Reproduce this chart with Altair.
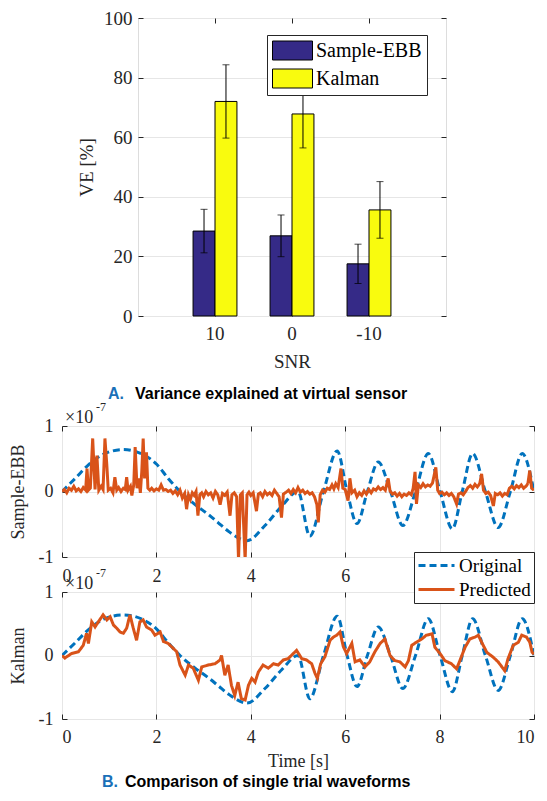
import altair as alt
import pandas as pd

# ---------------- data ----------------
snr = ["10", "0", "-10"]
methods = ["Sample-EBB", "Kalman"]
ve_sample = [28.5, 26.9, 17.5]
err_sample = [7.3, 7.0, 6.6]
ve_kalman = [72.0, 67.8, 35.6]
err_kalman = [12.3, 11.4, 9.5]

orig_t = [0.00, 0.28, 0.55, 0.91, 1.30, 1.70, 2.00, 2.25, 2.50, 2.82, 3.10, 3.30, 3.55, 3.92,
          4.30, 4.66, 5.00, 5.25, 5.54, 5.83, 6.04, 6.25, 6.47, 6.70, 6.96, 7.22, 7.49, 7.76,
          8.01, 8.27, 8.48, 8.70, 8.97, 9.24, 9.50, 9.75, 10.00]
orig_v = [0.00, 0.20, 0.40, 0.58, 0.64, 0.57, 0.42, 0.20, 0.00, -0.20, -0.35, -0.47, -0.62, -0.75,
          -0.52, -0.22, 0.00, -0.68, 0.00, 0.62, 0.00, -0.49, 0.00, 0.45, 0.00, -0.52, 0.00, 0.58,
          0.00, -0.57, 0.00, 0.58, 0.00, -0.55, 0.00, 0.58, 0.00]

ebb_t = [0.00, 0.05, 0.10, 0.15, 0.20, 0.25, 0.30, 0.35, 0.40, 0.45, 0.50, 0.53, 0.56, 0.60, 0.65,
         0.70, 0.74, 0.78, 0.83, 0.87, 0.91, 0.95, 0.98, 1.03, 1.08, 1.12, 1.16, 1.20, 1.25, 1.30,
         1.34, 1.37, 1.40, 1.45, 1.48, 1.52, 1.55, 1.59, 1.63, 1.66, 1.69, 1.72, 1.75, 1.79, 1.82,
         1.86, 1.90, 1.95, 2.00, 2.05, 2.10, 2.15, 2.20, 2.25, 2.30, 2.35, 2.40, 2.45, 2.50, 2.55,
         2.60, 2.64, 2.68, 2.72, 2.76, 2.80, 2.84, 2.88, 2.92, 2.96, 3.00, 3.05, 3.10, 3.15, 3.20,
         3.25, 3.30, 3.35, 3.40, 3.45, 3.50, 3.56, 3.60, 3.65, 3.70, 3.74, 3.78, 3.82, 3.88, 3.92,
         3.96, 4.00, 4.05, 4.12, 4.16, 4.20, 4.25, 4.30, 4.35, 4.40, 4.45, 4.50, 4.55, 4.60, 4.65,
         4.69, 4.75, 4.80, 4.85, 4.90, 4.95, 5.00, 5.05, 5.10, 5.15, 5.20, 5.25, 5.30, 5.35, 5.40,
         5.43, 5.47, 5.52, 5.57, 5.62, 5.67, 5.72, 5.76, 5.80, 5.85, 5.91, 5.95, 6.00, 6.06, 6.10,
         6.14, 6.20, 6.25, 6.30, 6.35, 6.40, 6.45, 6.50, 6.55, 6.60, 6.65, 6.70, 6.75, 6.80, 6.85,
         6.91, 6.95, 7.00, 7.05, 7.10, 7.15, 7.20, 7.25, 7.30, 7.35, 7.40, 7.44, 7.48, 7.51, 7.55,
         7.60, 7.65, 7.70, 7.75, 7.80, 7.85, 7.92, 7.96, 8.00, 8.05, 8.10, 8.15, 8.20, 8.25, 8.30,
         8.36, 8.40, 8.45, 8.50, 8.55, 8.60, 8.65, 8.70, 8.75, 8.80, 8.85, 8.89, 8.93, 8.98, 9.03,
         9.08, 9.14, 9.18, 9.23, 9.28, 9.33, 9.38, 9.43, 9.48, 9.53, 9.58, 9.63, 9.68, 9.73, 9.78,
         9.83, 9.87, 9.91, 9.95, 10.00]
ebb_v = [0.00, 0.03, -0.02, 0.05, 0.02, 0.08, 0.01, 0.04, 0.00, 0.06, 0.02, 0.35, 0.02, 0.05, 0.81,
         0.03, 0.55, 0.02, 0.08, 0.03, 0.81, 0.40, 0.02, 0.05, -0.02, 0.22, 0.02, 0.06, 0.00, 0.05,
         0.03, 0.22, 0.02, 0.08, -0.06, 0.10, 0.68, 0.05, 0.20, -0.02, 0.30, 0.81, 0.20, 0.60, 0.05,
         0.02, 0.05, 0.01, 0.04, 0.02, 0.10, 0.02, 0.03, 0.00, 0.02, -0.03, 0.01, -0.05, 0.02, -0.10,
         -0.03, -0.27, -0.05, -0.12, -0.02, -0.06, 0.00, -0.37, -0.05, -0.02, -0.08, 0.00, -0.05, -0.02, -0.10,
         0.00, -0.05, -0.20, -0.03, -0.06, -0.01, -0.37, -0.05, -0.02, -0.08, -1.05, -0.05, -0.02, -1.05, -0.05,
         -0.01, -0.06, -0.02, -0.30, -0.04, -0.02, -0.08, 0.00, -0.05, -0.02, -0.06, 0.02, -0.03, -0.08, -0.40,
         -0.04, -0.01, 0.02, -0.03, 0.03, -0.02, 0.06, -0.01, 0.02, -0.03, 0.00, -0.04, -0.02, -0.08, -0.20,
         -0.47, -0.05, 0.02, -0.01, 0.05, 0.03, 0.10, 0.04, 0.12, 0.06, 0.35, 0.05, 0.03, -0.14, 0.20,
         -0.02, 0.02, -0.08, -0.02, -0.06, 0.01, -0.04, 0.03, -0.02, 0.04, 0.02, 0.07, 0.03, 0.06, 0.02,
         0.20, 0.01, -0.04, -0.02, -0.07, -0.03, -0.08, -0.04, -0.06, -0.02, -0.05, 0.05, 0.30, -0.19, 0.10,
         0.06, 0.12, 0.07, 0.10, 0.08, 0.13, 0.37, 0.02, -0.03, -0.01, -0.05, -0.02, -0.06, -0.03, -0.08,
         -0.19, -0.04, -0.02, -0.05, 0.00, 0.06, 0.09, 0.05, 0.11, 0.07, 0.12, 0.27, 0.02, -0.03, -0.01,
         -0.06, -0.22, -0.03, -0.05, -0.02, -0.07, -0.03, -0.05, 0.05, 0.08, 0.04, 0.09, 0.06, 0.10, 0.05,
         0.08, 0.12, 0.32, 0.05, 0.02]

kal_t = [0.00, 0.06, 0.20, 0.35, 0.45, 0.52, 0.56, 0.63, 0.70, 0.77, 0.87, 0.95, 1.02, 1.09, 1.16,
         1.23, 1.30, 1.37, 1.44, 1.51, 1.58, 1.65, 1.72, 1.79, 1.90, 1.97, 2.08, 2.15, 2.25, 2.36,
         2.43, 2.50, 2.61, 2.68, 2.78, 2.89, 2.96, 3.10, 3.24, 3.35, 3.38, 3.45, 3.52, 3.59, 3.66,
         3.73, 3.80, 3.88, 3.95, 4.02, 4.09, 4.16, 4.26, 4.37, 4.48, 4.58, 4.69, 4.79, 4.90, 4.97,
         5.08, 5.18, 5.29, 5.36, 5.41, 5.48, 5.57, 5.68, 5.75, 5.82, 5.89, 5.96, 6.03, 6.14, 6.21,
         6.31, 6.42, 6.52, 6.63, 6.74, 6.84, 6.95, 7.05, 7.16, 7.27, 7.34, 7.41, 7.51, 7.62, 7.72,
         7.84, 7.90, 8.01, 8.11, 8.25, 8.36, 8.43, 8.54, 8.64, 8.75, 8.82, 8.89, 9.00, 9.14, 9.24,
         9.38, 9.45, 9.56, 9.67, 9.74, 9.84, 9.91, 9.96, 10.00]
kal_v = [0.00, -0.04, 0.03, 0.06, 0.16, 0.35, 0.19, 0.53, 0.45, 0.53, 0.64, 0.56, 0.61, 0.48, 0.43,
         0.37, 0.35, 0.43, 0.64, 0.43, 0.24, 0.53, 0.56, 0.45, 0.40, 0.32, 0.37, 0.22, 0.19, 0.11,
         0.06, -0.15, -0.31, -0.15, -0.20, -0.39, -0.18, -0.15, -0.13, -0.07, 0.00, -0.31, -0.15, -0.47, -0.63,
         -0.42, -0.68, -0.70, -0.47, -0.36, -0.42, -0.26, -0.15, -0.20, -0.13, -0.15, -0.07, -0.05, 0.03, 0.08,
         -0.05, -0.07, -0.13, -0.28, -0.36, -0.13, -0.02, 0.24, 0.29, 0.32, 0.37, 0.14, 0.03, 0.19, -0.10,
         -0.07, -0.18, -0.10, 0.06, 0.19, 0.26, 0.00, -0.08, -0.10, -0.18, -0.08, 0.16, 0.21, 0.26, 0.32,
         0.34, 0.13, 0.03, -0.08, -0.13, -0.21, -0.08, 0.13, 0.26, 0.29, 0.32, 0.21, 0.05, -0.03, -0.10,
         -0.24, -0.05, 0.16, 0.21, 0.32, 0.29, 0.21, 0.05, 0.02]

# ---------------- style ----------------
SERIF = "Liberation Serif"
SANS = "Liberation Sans"
AX = "#262626"
GRID = "#e6e6e6"
BLUE = "#0072bd"
ORANGE = "#d95319"
NAVY = "#352a87"
YELLOW = "#f9fb0e"

def main_axis(**kw):
    base = dict(labelFont=SERIF, labelFontSize=19, labelColor=AX, tickColor=AX, tickSize=5,
                offset=-5, domain=False, titleFont=SERIF, titleFontSize=19, titleFontWeight="normal",
                titleColor=AX, gridColor=GRID, minExtent=0)
    base.update(kw)
    return alt.Axis(**base)

def tick_axis(orient, values=None):
    kw = dict(orient=orient, labels=False, title=None, grid=False, domain=False, tickColor=AX,
              tickSize=5, offset=-5, minExtent=0, maxExtent=0, labelPadding=0)
    if values is not None:
        kw["values"] = values
    return alt.Axis(**kw)

def text_mark(chart_data, txt, x, y, size, color="black", font=SANS, weight="bold", align="left"):
    return alt.Chart(chart_data).mark_text(
        text=txt, font=font, fontSize=size, fontWeight=weight, color=color, align=align,
        baseline="middle").encode(x=alt.value(x), y=alt.value(y))

one = pd.DataFrame({"k": [0]})

# ---------------- bar chart ----------------
bar_df = pd.DataFrame({
    "snr": snr * 2,
    "method": [methods[0]] * 3 + [methods[1]] * 3,
    "ve": ve_sample + ve_kalman,
    "err": err_sample + err_kalman,
})

xenc = alt.X("snr:N", sort=snr, scale=alt.Scale(paddingInner=0.43, paddingOuter=0.715),
             axis=main_axis(title="SNR", labelAngle=0, labelPadding=8, grid=False, titlePadding=9))
xoff = alt.XOffset("method:N", sort=methods, scale=alt.Scale(domain=methods, paddingInner=0, paddingOuter=0))

bars = alt.Chart(bar_df).mark_bar(stroke="black", strokeWidth=1).encode(
    x=xenc,
    xOffset=xoff,
    y=alt.Y("ve:Q", scale=alt.Scale(domain=[0, 100], nice=False),
            axis=main_axis(title="VE [%]", values=[0, 20, 40, 60, 80, 100], labelPadding=6,
                           grid=True, titlePadding=7)),
    color=alt.Color("method:N", sort=methods,
                    scale=alt.Scale(domain=methods, range=[NAVY, YELLOW]),
                    legend=alt.Legend(orient="none", legendX=129, legendY=17, title=None,
                                      fillColor="white", strokeColor=AX, padding=5,
                                      labelFont=SERIF, labelFontSize=20, labelColor="black",
                                      symbolType="M-2,-0.95H2V0.95H-2Z", symbolSize=400,
                                      symbolOffset=10, symbolStrokeColor="black",
                                      symbolStrokeWidth=1, symbolOpacity=1, rowPadding=5,
                                      labelOffset=13)),
)

err_base = alt.Chart(bar_df).transform_calculate(
    lo="datum.ve - datum.err", hi="datum.ve + datum.err")
err_rule = err_base.mark_rule(color="black", strokeWidth=1).encode(
    x=alt.X("snr:N", sort=snr, axis=tick_axis("top")),
    xOffset=xoff,
    y=alt.Y("lo:Q", axis=tick_axis("right", [0, 20, 40, 60, 80, 100])),
    y2="hi:Q",
)
cap_lo = err_base.mark_tick(color="black", size=7, thickness=1).encode(
    x=alt.X("snr:N", sort=snr, axis=None), xOffset=xoff, y=alt.Y("lo:Q", axis=None))
cap_hi = err_base.mark_tick(color="black", size=7, thickness=1).encode(
    x=alt.X("snr:N", sort=snr, axis=None), xOffset=xoff, y=alt.Y("hi:Q", axis=None))

bar_chart = alt.layer(bars, err_rule, cap_lo, cap_hi).resolve_axis(
    x="independent", y="independent").properties(width=308, height=298)

spacer = alt.Chart(one).mark_point(opacity=0).properties(
    width=15, height=10, view=alt.ViewBackground(stroke=None))

row1 = alt.hconcat(spacer, bar_chart, spacing=0).resolve_scale(color="independent")

# ---------------- waveform charts ----------------
series = ["Original", "Predicted"]
color_scale = alt.Scale(domain=series, range=[BLUE, ORANGE])
dash_scale = alt.Scale(domain=series, range=[[7, 4], [1, 0]])

def wave_chart(pred_t, pred_v, ytitle, xtitle, show_legend, xlabpad):
    odf = pd.DataFrame({"t": orig_t, "v": orig_v, "s": "Original"})
    pdf = pd.DataFrame({"t": pred_t, "v": pred_v, "s": "Predicted"})
    if show_legend:
        leg = alt.Legend(orient="none", legendX=352, legendY=-40, title=None, fillColor="white",
                         strokeColor=AX, padding=3, labelFont=SERIF, labelFontSize=19,
                         labelColor="black", symbolType="M-2,0H2", symbolSize=324,
                         symbolOffset=9, symbolStrokeWidth=3, rowPadding=3, labelOffset=12)
    else:
        leg = None
    xs = alt.Scale(domain=[0, 10], nice=False)
    ys = alt.Scale(domain=[-1, 1], nice=False)
    xaxis = main_axis(values=[0, 2, 4, 6, 8, 10], grid=True, labelPadding=xlabpad,
                      title=xtitle, titlePadding=6, labelFontSize=18, titleFontSize=18)
    yaxis = main_axis(values=[-1, 0, 1], grid=True, labelPadding=9, title=ytitle,
                      labelExpr="toString(datum.value)", titlePadding=11,
                      labelFontSize=18, titleFontSize=18)
    o_layer = alt.Chart(odf).mark_line(strokeWidth=3, clip=True, interpolate="monotone").encode(
        x=alt.X("t:Q", scale=xs, axis=xaxis),
        y=alt.Y("v:Q", scale=ys, axis=yaxis),
        color=alt.Color("s:N", scale=color_scale, legend=leg),
        strokeDash=alt.StrokeDash("s:N", scale=dash_scale, legend=leg),
    )
    p_layer = alt.Chart(pdf).mark_line(strokeWidth=3, clip=True).encode(
        x=alt.X("t:Q", scale=xs, axis=tick_axis("top", [0, 2, 4, 6, 8, 10])),
        y=alt.Y("v:Q", scale=ys, axis=tick_axis("right", [-1, 0, 1])),
        color=alt.Color("s:N", scale=color_scale, legend=leg),
        strokeDash=alt.StrokeDash("s:N", scale=dash_scale, legend=leg),
    )
    exp1 = text_mark(one, "×10", 3, -8, 18, color=AX, font=SERIF, weight="normal")
    exp2 = text_mark(one, "-7", 34, -19, 12, color=AX, font=SERIF, weight="normal")
    return o_layer, p_layer, exp1, exp2

o1, p1, e1a, e1b = wave_chart(ebb_t, ebb_v, "Sample-EBB", None, False, 10)
capA1 = text_mark(one, "A.", 46, -32, 16, color="#1a70b8")
capA2 = text_mark(one, "Variance explained at virtual sensor", 73, -32, 16)
mid = alt.layer(o1, p1, e1a, e1b, capA1, capA2).resolve_axis(
    x="independent", y="independent").properties(width=472, height=131)

o2, p2, e2a, e2b = wave_chart(kal_t, kal_v, "Kalman", "Time [s]", True, 9)
capB1 = text_mark(one, "B.", 40, 190, 16, color="#1a70b8")
capB2 = text_mark(one, "Comparison of single trial waveforms", 63, 190, 16)
bottom = alt.layer(o2, p2, e2a, e2b, capB1, capB2).resolve_axis(
    x="independent", y="independent").properties(width=472, height=127)

waves = alt.vconcat(mid, bottom, spacing=-35).resolve_scale(
    color="independent", strokeDash="independent")

chart = alt.vconcat(row1, waves, spacing=13).resolve_scale(
    color="independent", strokeDash="independent").properties(padding=0).configure_view(
    stroke=AX, strokeWidth=1).configure(background="white")

chart.save("out.html", embed_options={"renderer": "svg", "actions": False})
